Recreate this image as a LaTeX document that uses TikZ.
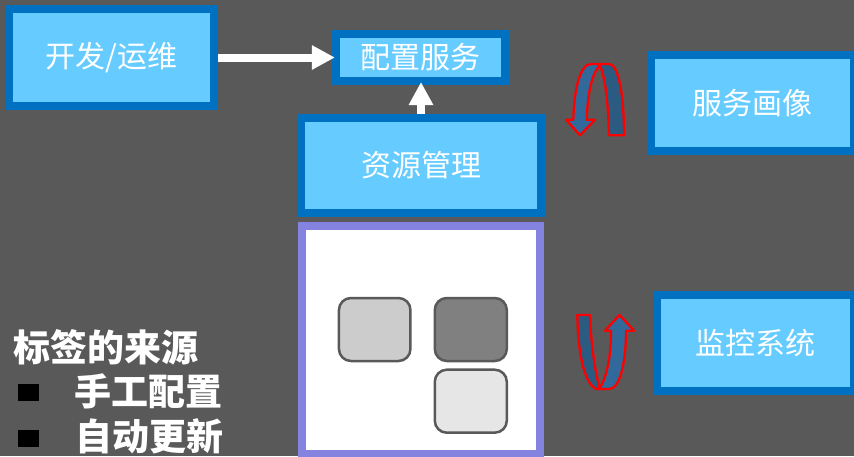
\documentclass[tikz,border=0pt]{standalone}
\usepackage{fontspec}
\newfontfamily\cjk{Noto Sans CJK SC}
\usetikzlibrary{arrows.meta}
\definecolor{bg}{HTML}{595959}
\definecolor{boxblue}{HTML}{0070C0}
\definecolor{boxfill}{HTML}{66CCFF}
\definecolor{purp}{RGB}{132,132,224}
\definecolor{lightA}{HTML}{CCCCCC}
\definecolor{darkA}{HTML}{808080}
\definecolor{lightB}{HTML}{E6E6E6}
\definecolor{ufront}{HTML}{31699A}
\definecolor{uback}{HTML}{2B5B80}
\newcommand{\boxtxt}[1]{\raisebox{-1.5pt}{#1}}
\tikzset{
  bluebox/.style={draw=boxblue, line width=8pt, fill=boxfill, rectangle, inner sep=0pt,
    text=white, font=\cjk\fontsize{30}{34}\selectfont},
  chip/.style={draw=bg, line width=2.5pt, rounded corners=12pt, rectangle, inner sep=0pt},
  whitearrow/.style={draw=white, line width=8pt, -{Triangle[length=23pt,width=23pt]}, shorten >=-3pt},
  uarrow/.style={draw=red, line width=2.3pt, line join=round},
  boldtxt/.style={text=white, inner sep=0pt, anchor=west, font=\cjk\bfseries\fontsize{37}{41}\selectfont},
  bulletsq/.style={fill=black, rectangle, inner sep=0pt, minimum width=21pt, minimum height=17pt}
}
\begin{document}
\begin{tikzpicture}[x=1pt,y=-1pt]
\useasboundingbox (0,0) rectangle (854,456);
\fill[bg] (0,0) rectangle (854,456);
\clip (0,0) rectangle (854,456);

% boxes
\node[bluebox, minimum width=205pt, minimum height=97pt] (dev) at (111.5,57.5) {\boxtxt{开发/运维}};
\node[bluebox, minimum width=169pt, minimum height=47pt] (cfg) at (420.4,57.5) {\boxtxt{配置服务}};
\node[bluebox, minimum width=240pt, minimum height=95pt] (res) at (421,165.5) {\boxtxt{资源管理}};
\node[bluebox, minimum width=203pt, minimum height=96pt] (prof) at (752.5,103) {\boxtxt{服务画像}};
\node[bluebox, minimum width=197pt, minimum height=96pt] (mon) at (755.8,343) {\boxtxt{监控系统}};

% purple container
\node[draw=purp, line width=8pt, fill=white, rectangle, inner sep=0pt,
  minimum width=238pt, minimum height=228pt] (pool) at (421,340) {};

% chips
\node[chip, fill=lightA, minimum width=71.5pt, minimum height=63pt] (c1) at (374.7,329.5) {};
\node[chip, fill=darkA, minimum width=72pt, minimum height=63pt] (c2) at (470.8,329.5) {};
\node[chip, fill=lightB, minimum width=72pt, minimum height=63pt] (c3) at (470.8,401.2) {};

% white arrows
\draw[whitearrow] (dev.east) -- (cfg.west);
\draw[whitearrow] (res.north) -- (res.north |- cfg.south);

% U-turn arrow (top): right strand behind, left strand with head
\path[uarrow, fill=uback] (599.3,64) -- (609,64) .. controls (618,64) and (624,92) .. (624,135.3)
  -- (609,135.3) .. controls (608,100) and (605,76) .. (599.3,64) -- cycle;
\path[uarrow, fill=ufront] (599.3,64) -- (591,64) .. controls (580,64) and (574,90) .. (573.3,119.7)
  -- (566,119.7) -- (580,135.3) -- (595,119.7) -- (586.7,119.7)
  .. controls (587.5,96) and (591,76) .. (598.6,66.8) -- cycle;

% U-turn arrow (bottom): left strand behind, right strand with head
\path[uarrow, fill=uback] (577.3,315) -- (590,315) .. controls (591,345) and (595,372) .. (600,389)
  -- (596,389) .. controls (586,384) and (578,360) .. (577.3,315) -- cycle;
\path[uarrow, fill=ufront] (600,389) -- (609,389) .. controls (620,389) and (626,362) .. (626,330.7)
  -- (634,330.7) -- (619.5,315) -- (605,330.7) -- (611,330.7)
  .. controls (611,356) and (607,375) .. (601.2,385.5) -- cycle;

% left text
\node[boldtxt] (title) at (13,347) {标签的来源};
\node[bulletsq] (b1) at (28.8,392.3) {};
\node[bulletsq] (b2) at (28.8,438.9) {};
\node[boldtxt] (t1) at (74,391.7) {手工配置};
\node[boldtxt] (t2) at (75,436.5) {自动更新};
\end{tikzpicture}
\end{document}
